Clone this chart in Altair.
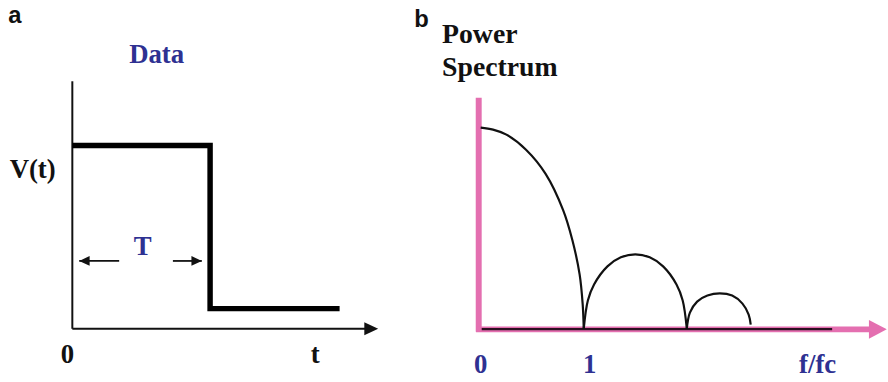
import altair as alt
import pandas as pd

# ---------------- panel a: rectangular pulse V(t), time in units of T
pulse_t = [0.0, 1.0, 1.0, 1.94]
pulse_v = [1.0, 1.0, 0.11, 0.11]

# axis extents of panel a (t axis ends in an arrow)
a_axis_t_end = 2.22
a_axis_v_end = 1.35

# double arrow marking the pulse length T
span_tail = [0.34, 0.73]
span_tip = [0.05, 0.94]
span_angle = [180, 0]
span_level = 0.37

# ---------------- panel b: power spectrum lobes, f in units of fc
lobe1_f = [0.0, 0.12, 0.25, 0.44, 0.63, 0.80, 0.89, 0.96, 0.99, 1.0]
lobe1_p = [1.0, 0.99, 0.965, 0.89, 0.77, 0.59, 0.44, 0.27, 0.12, 0.0]
lobe2_f = [1.0, 1.04, 1.10, 1.23, 1.36, 1.50, 1.64, 1.77, 1.90, 1.96, 2.0]
lobe2_p = [0.0, 0.14, 0.22, 0.31, 0.355, 0.37, 0.355, 0.31, 0.22, 0.14, 0.0]
lobe3_f = [2.0, 2.03, 2.10, 2.20, 2.32, 2.44, 2.54, 2.60, 2.62]
lobe3_p = [0.0, 0.08, 0.135, 0.165, 0.176, 0.165, 0.125, 0.07, 0.02]

# axis extents of panel b
b_axis_f_start = -0.045
b_axis_f_end = 3.94
b_axis_p_end = 1.148
b_baseline_end = 3.41

# tick labels of panel b
b_tick_f = [0.0, 1.058, 3.269]
b_tick_text = ["0", "1", "f/fc"]

BLUE = "#2e3192"
PINK = "#e46fb0"
SERIF = "Liberation Serif, Times New Roman, serif"
SANS = "Liberation Sans, Arial, sans-serif"
ARROW_SMALL = "M-2,-0.93L0,0L-2,0.93Z"
ARROW_PINK = "M-2,-1.05L0,0L-2,1.05Z"


def lin(lo, hi):
    return alt.Scale(domain=[lo, hi], nice=False, zero=False)


# ---------------- panel a
xa = lin(-0.525, 2.482)
ya = lin(-0.281, 1.784)


def XA(f="t"):
    return alt.X(f"{f}:Q", scale=xa, axis=None)


def YA(f="v"):
    return alt.Y(f"{f}:Q", scale=ya, axis=None)


axes_a = pd.DataFrame({
    "t": [0.0, 0.0],
    "v": [0.0, 0.0],
    "t2": [0.0, a_axis_t_end - 0.05],
    "v2": [a_axis_v_end, 0.0],
})
a_axes = alt.Chart(axes_a).mark_rule(color="#111", strokeWidth=2).encode(
    x=XA(), y=YA(), x2="t2:Q", y2="v2:Q")
a_head = alt.Chart(pd.DataFrame({"t": [a_axis_t_end], "v": [0.0]})).mark_point(
    shape=ARROW_SMALL, size=196, filled=True, color="#111", opacity=1).encode(
    x=XA(), y=YA())

pulse = alt.Chart(pd.DataFrame({"t": pulse_t, "v": pulse_v, "i": range(len(pulse_t))})).mark_line(
    color="#000", strokeWidth=5.5, strokeJoin="miter", strokeCap="butt").encode(
    x=XA(), y=YA(), order="i:Q")

span_df = pd.DataFrame({
    "t": span_tail, "t2": span_tip, "v": [span_level] * 2, "ang": span_angle})
span_lines = alt.Chart(span_df).mark_rule(color="#111", strokeWidth=1.8).encode(
    x=XA(), x2="t2:Q", y=YA())
span_heads = alt.Chart(span_df).mark_point(
    shape=ARROW_SMALL, size=110, filled=True, color="#111", opacity=1).encode(
    x=XA("t2"), y=YA(), angle=alt.Angle("ang:Q", scale=None))


def label(df, x, y, **kw):
    return alt.Chart(pd.DataFrame(df)).mark_text(fontWeight="bold", **kw).encode(
        x=x, y=y, text="s:N")


a_texts = [
    label({"t": [-0.417], "v": [1.703], "s": ["a"]}, XA(), YA(),
          font=SANS, fontSize=24, color="#111", baseline="middle"),
    label({"t": [0.612], "v": [1.449], "s": ["Data"]}, XA(), YA(),
          font=SERIF, fontSize=27, color=BLUE, baseline="alphabetic"),
    label({"t": [0.511], "v": [0.405], "s": ["T"]}, XA(), YA(),
          font=SERIF, fontSize=27, color=BLUE, baseline="alphabetic"),
    label({"t": [-0.288, -0.036, 1.763], "v": [0.822, -0.189, -0.189],
           "s": ["V(t)", "0", "t"]}, XA(), YA(),
          font=SERIF, fontSize=27, color="#111", baseline="alphabetic"),
]

panel_a = alt.layer(a_axes, a_head, pulse, span_lines, span_heads, *a_texts).properties(
    width=418, height=382)

# ---------------- panel b
xb = lin(-0.5673, 3.9519)
yb = lin(-0.2562, 1.6256)


def XB(f="f"):
    return alt.X(f"{f}:Q", scale=xb, axis=None)


def YB(f="p"):
    return alt.Y(f"{f}:Q", scale=yb, axis=None)


b_vaxis = alt.Chart(pd.DataFrame({"f": [-0.019], "p": [-0.015], "p2": [b_axis_p_end]})).mark_rule(
    color=PINK, strokeWidth=6).encode(x=XB(), y=YB(), y2="p2:Q")
b_haxis = alt.Chart(pd.DataFrame({"f": [b_axis_f_start], "f2": [b_axis_f_end - 0.12], "p": [-0.003]})).mark_rule(
    color=PINK, strokeWidth=6).encode(x=XB(), x2="f2:Q", y=YB())
b_head = alt.Chart(pd.DataFrame({"f": [b_axis_f_end], "p": [-0.003]})).mark_point(
    shape=ARROW_PINK, size=324, filled=True, color=PINK, opacity=1).encode(x=XB(), y=YB())
b_base = alt.Chart(pd.DataFrame({"f": [0.01], "f2": [b_baseline_end], "p": [-0.002]})).mark_rule(
    color="#2a1020", strokeWidth=2.4).encode(x=XB(), x2="f2:Q", y=YB())

lobes = pd.concat([
    pd.DataFrame({"f": lobe1_f, "p": lobe1_p, "lobe": 1}),
    pd.DataFrame({"f": lobe2_f, "p": lobe2_p, "lobe": 2}),
    pd.DataFrame({"f": lobe3_f, "p": lobe3_p, "lobe": 3}),
], ignore_index=True)
lobes["i"] = range(len(lobes))
b_lobes = alt.Chart(lobes).mark_line(
    color="#111", strokeWidth=2.2, interpolate="catmull-rom").encode(
    x=XB(), y=YB(), detail="lobe:N", order="i:Q")

b_texts = [
    label({"f": [-0.644], "p": [1.498], "s": ["b"]}, XB(), YB(),
          font=SANS, fontSize=24, color="#111", align="left", baseline="alphabetic"),
    label({"f": [-0.375, -0.375], "p": [1.419, 1.256], "s": ["Power", "Spectrum"]}, XB(), YB(),
          font=SERIF, fontSize=28, color="#111", align="left", baseline="alphabetic"),
    label({"f": b_tick_f, "p": [-0.222] * 3, "s": b_tick_text}, XB(), YB(),
          font=SERIF, fontSize=27, color=BLUE, baseline="alphabetic"),
]

panel_b = alt.layer(b_vaxis, b_haxis, b_head, b_base, b_lobes, *b_texts).properties(
    width=470, height=382)

chart = alt.hconcat(panel_a, panel_b, spacing=0).properties(
    padding=0, background="white").configure_view(stroke=None)

chart.save("out.html", embed_options={"renderer": "svg", "actions": False})
